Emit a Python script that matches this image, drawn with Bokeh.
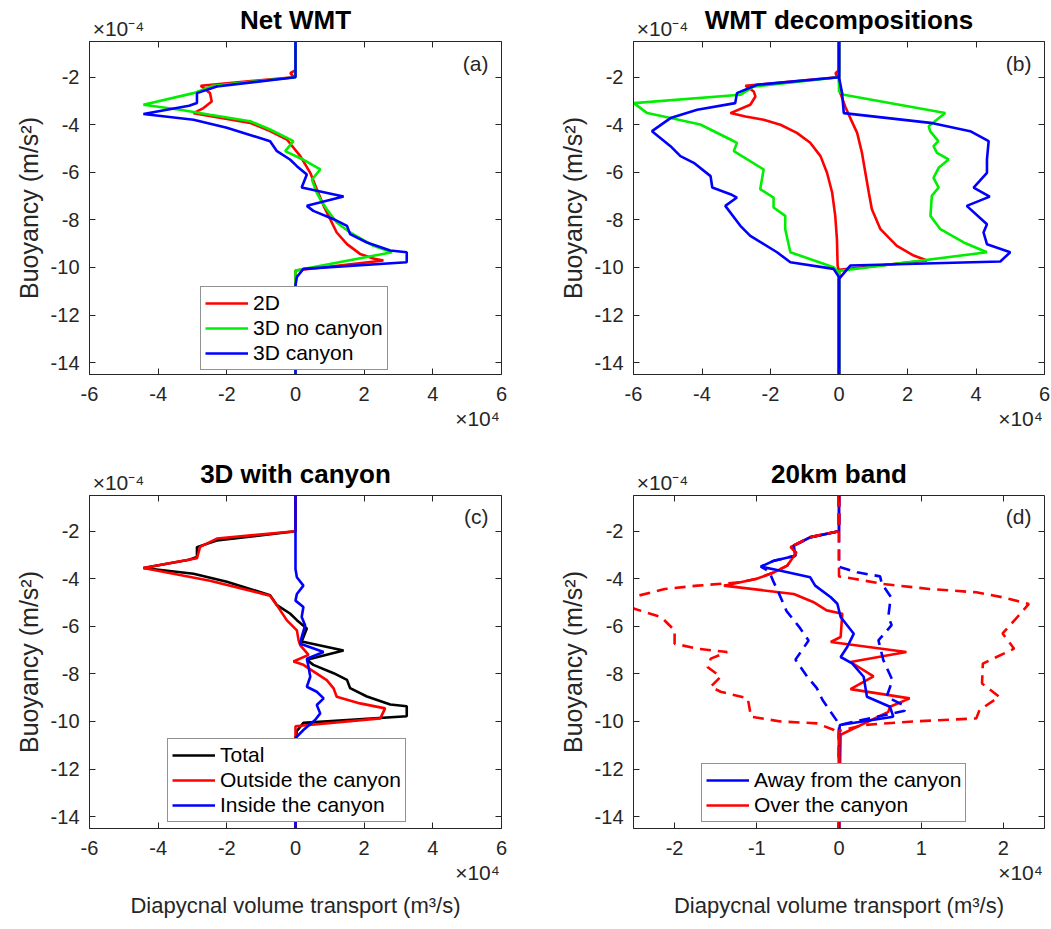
from bokeh.plotting import figure
from bokeh.models import (Range1d, FixedTicker, LinearAxis, Label, Legend,
                          LegendItem, CustomJSTickFormatter)
from bokeh.layouts import column, row
from bokeh.embed import file_html
from bokeh.resources import INLINE

# ---------------- data (x in 1e4 m^3/s, buoyancy in 1e-4 m/s^2) ----------------
# (a) Net WMT
net2d_b = [-0.5, -1.7, -1.83, -2.0, -2.36, -2.67, -3.02, -3.30, -3.51, -3.92, -4.27, -4.62,
           -5.32, -6.02, -6.71, -7.41, -7.97, -8.53, -9.02, -9.43, -9.62, -9.71, -10.13, -14.5]
net2d_x = [0, 0, -0.15, -0.05, -2.76, -2.49, -2.44, -2.68, -2.97, -1.32, -0.74, -0.25,
           0.14, 0.43, 0.62, 0.82, 1.01, 1.2, 1.5, 1.88, 2.27, 2.56, 0.0, 0]
net3dnc_b = [-0.5, -2.0, -2.36, -2.67, -3.16, -3.37, -3.58, -3.85, -4.2, -4.69, -5.11, -5.45,
             -5.88, -6.3, -6.8, -7.13, -7.55, -8.11, -8.53, -9.09, -9.36, -10.13, -14.5]
net3dnc_x = [0, 0, -2.39, -2.97, -4.43, -3.36, -2.49, -1.32, -0.74, -0.06, -0.30, 0.2,
             0.72, 0.48, 0.6, 0.72, 0.91, 1.2, 1.59, 2.27, 2.81, 0.0, 0]
net3dc_b = [-0.5, -2.0, -2.39, -2.67, -3.09, -3.2, -3.55, -3.79, -4.13, -4.69, -5.11, -5.46,
            -5.74, -6.09, -6.64, -7.02, -7.41, -7.62, -7.97, -8.25, -8.6, -8.95, -9.29, -9.36,
            -9.78, -10.06, -10.4, -10.76, -14.5]
net3dc_x = [0, 0, -2.29, -2.87, -2.87, -3.1, -4.43, -2.97, -2.0, -0.74, -0.54, -0.16,
            0.04, 0.33, 0.18, 1.40, 0.33, 0.52, 1.11, 1.5, 1.59, 2.08, 2.76, 3.24,
            3.24, 0.23, 0.04, 0, 0]

# (b) WMT decompositions (negative / positive parts)
neg2d_b = [-0.5, -1.7, -1.83, -2.0, -2.36, -2.6, -2.81, -3.16, -3.51, -3.65, -3.79, -4.0,
           -4.34, -4.76, -5.32, -6.02, -6.85, -7.83, -8.81, -9.92, -10.2, -14.5]
neg2d_x = [0, 0, -0.1, -0.05, -2.73, -2.49, -2.44, -2.59, -3.17, -2.73, -2.2, -1.71,
           -1.23, -0.84, -0.54, -0.35, -0.2, -0.11, -0.06, -0.04, 0, 0]
pos2d_b = [-0.5, -2.2, -2.67, -3.23, -3.72, -4.34, -5.18, -6.02, -6.85, -7.55, -8.39,
           -9.09, -9.5, -9.71, -10.1, -14.5]
pos2d_x = [0, 0, 0.04, 0.18, 0.33, 0.53, 0.67, 0.77, 0.87, 0.96, 1.21,
           1.69, 2.18, 2.57, 0.0, 0]
neg3dnc_b = [-0.5, -2.0, -2.4, -2.74, -3.09, -3.51, -3.72, -3.99, -4.62, -4.76, -5.11, -5.88,
             -6.71, -7.06, -7.48, -7.83, -8.39, -9.36, -9.99, -10.2, -14.5]
neg3dnc_x = [0, 0, -2.5, -2.88, -5.99, -5.6, -4.92, -4.05, -3.17, -2.98, -3.07, -2.2,
             -2.3, -1.91, -1.91, -1.57, -1.57, -1.42, -0.16, 0, 0]
pos3dnc_b = [-0.5, -2.6, -2.74, -3.51, -4.06, -4.27, -4.69, -4.9, -5.18, -5.46, -5.81, -6.23,
             -6.64, -6.99, -7.83, -8.39, -8.95, -9.36, -10.15, -14.5]
pos3dnc_x = [0, 0, 0.14, 3.1, 2.62, 2.66, 2.9, 2.76, 2.86, 3.2, 2.91, 2.76,
             2.91, 2.71, 2.67, 2.96, 3.64, 4.32, 0.0, 0]
neg3dc_b = [-0.5, -2.0, -2.32, -2.67, -3.09, -3.37, -3.72, -4.27, -4.9, -5.32, -5.6, -6.16,
            -6.64, -6.92, -7.06, -7.41, -8.25, -8.67, -9.36, -9.78, -10.06, -10.4, -14.5]
neg3dc_x = [0, 0, -2.39, -2.98, -3.03, -4.14, -4.92, -5.46, -4.92, -4.63, -4.24, -3.75,
            -3.7, -3.17, -2.98, -3.32, -2.88, -2.59, -1.81, -1.42, -0.16, 0, 0]
pos3dc_b = [-0.5, -2.0, -2.67, -3.51, -3.92, -4.27, -4.69, -5.46, -6.02, -6.64, -7.02, -7.41,
            -8.18, -8.53, -9.02, -9.36, -9.75, -9.92, -10.48, -14.5]
pos3dc_x = [0, 0, 0.09, 0.14, 2.67, 3.83, 4.37, 4.32, 4.32, 3.93, 4.4, 3.73,
            4.32, 4.22, 4.32, 5.0, 4.71, 0.33, 0, 0]

# (c) 3D with canyon
outside_b = [-0.5, -2.0, -2.31, -2.66, -3.14, -3.55, -4.08, -4.71, -5.12, -5.75, -6.17, -6.59,
             -6.8, -7.2, -7.48, -7.62, -8.26, -8.61, -8.96, -9.24, -9.45, -9.87, -10.2, -14.5]
outside_x = [0, 0, -2.29, -2.78, -2.87, -4.43, -2.49, -0.74, -0.54, -0.25, 0.04, 0.09,
             0.14, 0.38, -0.06, 0.23, 0.91, 1.11, 1.2, 1.88, 2.61, 2.47, 0.0, 0]
inside_b = [-0.5, -3.59, -3.94, -4.29, -4.64, -4.92, -5.19, -5.61, -5.96, -6.45, -6.73, -7.08,
            -7.36, -7.71, -8.12, -8.54, -8.75, -9.03, -9.31, -9.66, -9.94, -10.36, -10.7, -14.5]
inside_x = [0, 0, 0.04, 0.23, 0.04, 0, 0.23, 0.18, 0.28, 0.18, 0.14, 0.82,
            0.33, 0.38, 0.43, 0.33, 0.62, 0.82, 0.62, 0.72, 0.57, 0.23, 0, 0]

# (d) 20km band
away_b = [-0.5, -2.0, -2.26, -2.61, -3.03, -3.24, -3.49, -3.66, -3.94, -4.29, -4.78, -5.05,
          -5.61, -6.31, -6.87, -7.29, -7.56, -8.12, -8.96, -9.38, -9.8, -10.15, -10.56, -14.5]
away_x = [0, 0, -0.35, -0.55, -0.53, -0.79, -0.95, -0.71, -0.35, -0.29, -0.1, -0.02,
          0.02, 0.18, 0.1, 0.02, 0.16, 0.3, 0.34, 0.62, 0.66, 0.01, 0, 0]
over_b = [-0.5, -2.0, -2.25, -2.67, -2.9, -3.45, -3.73, -4.0, -4.29, -4.64, -5.0, -5.33,
          -5.47, -6.45, -6.66, -7.08, -7.5, -8.1, -8.64, -9.03, -9.38, -9.6, -10.56, -14.5]
over_x = [0, 0, -0.35, -0.59, -0.52, -0.63, -0.79, -1.0, -1.4, -0.55, -0.3, -0.15,
          0.04, 0.02, -0.1, 0.82, 0.14, 0.42, 0.14, 0.86, 0.62, 0.6, 0.02, 0]
away_neg_b = [-0.5, -2.0, -2.26, -2.61, -3.03, -3.24, -3.49, -3.7, -4.1, -4.7, -5.35, -6.0,
              -6.6, -7.4, -8.1, -8.6, -9.1, -9.6, -10.0, -10.2, -14.5]
away_neg_x = [0, 0, -0.35, -0.55, -0.53, -0.79, -0.95, -0.85, -0.8, -0.72, -0.64, -0.49,
              -0.37, -0.53, -0.39, -0.27, -0.2, -0.1, -0.02, 0, 0]
away_pos_b = [-0.5, -3.5, -3.73, -3.9, -4.2, -4.76, -5.6, -5.95, -6.59, -7.43, -8.26, -8.96,
              -9.31, -9.55, -10.15, -14.5]
away_pos_x = [0, 0, 0.22, 0.5, 0.52, 0.63, 0.6, 0.64, 0.48, 0.54, 0.65, 0.58,
              0.78, 0.8, 0, 0]
over_neg_b = [-0.5, -2.0, -2.25, -2.67, -2.9, -3.45, -3.73, -4.0, -4.15, -4.29, -4.43, -4.71,
              -4.95, -5.1, -5.27, -5.62, -6.17, -6.73, -6.94, -7.08, -7.36, -7.71, -8.12,
              -8.54, -8.75, -9.03, -9.8, -10.0, -10.08, -10.36, -10.5, -14.5]
over_neg_x = [0, 0, -0.35, -0.59, -0.52, -0.63, -0.79, -1.0, -1.2, -1.72, -2.12, -2.44,
              -2.6, -2.6, -2.48, -2.16, -2.0, -2.0, -1.72, -1.36, -1.56, -1.6, -1.44,
              -1.56, -1.44, -1.11, -1.07, -0.71, -0.27, -0.06, 0, 0]
over_pos_b = [-0.5, -3.9, -4.0, -4.22, -4.43, -4.57, -4.78, -5.06, -5.69, -6.3, -6.94, -7.3,
              -7.57, -8.4, -8.96, -9.52, -9.87, -10.0, -10.15, -10.4, -14.5]
over_pos_x = [0, 0, 0.18, 0.54, 1.1, 1.67, 1.99, 2.31, 2.15, 1.99, 2.13, 1.91,
              1.75, 1.74, 1.95, 1.71, 1.67, 0.9, 0.3, 0, 0]

y_ticks = [-14, -12, -10, -8, -6, -4, -2]
x_ticks_wide = [-6, -4, -2, 0, 2, 4, 6]
x_ticks_band = [-2, -1, 0, 1, 2]

titles = ["Net WMT", "WMT decompositions", "3D with canyon", "20km band"]
tags = ["(a)", "(b)", "(c)", "(d)"]
y_scale_text = "×10⁻⁴"
x_scale_text = "×10⁴"
y_label = "Buoyancy (m/s²)"
x_label = "Diapycnal volume transport (m³/s)"

# ---------------- styling ----------------
FONT = "Liberation Sans"
AX = "#262626"
RED, GREEN, BLUE, BLACK = "#ff0000", "#00ee00", "#0000ff", "#000000"
LW = 2.6
NUM_FMT = "return String(tick)"


def base_axis(ax):
    ax.axis_line_color = AX
    ax.major_tick_in = 6
    ax.major_tick_out = 0
    ax.minor_tick_in = 6
    ax.minor_tick_out = 0
    ax.major_tick_line_color = AX
    ax.minor_tick_line_color = AX
    ax.major_label_text_font = FONT
    ax.major_label_text_font_size = "20px"
    ax.major_label_text_color = AX
    ax.axis_label_text_font = FONT
    ax.axis_label_text_font_size = "22px"
    ax.axis_label_text_font_style = "normal"
    ax.axis_label_text_color = AX


def text_axis(text, pos, minor):
    """axis carrying a single text label at data position pos (no tick line)"""
    ax = LinearAxis(ticker=FixedTicker(ticks=[pos], minor_ticks=minor),
                    formatter=CustomJSTickFormatter(code="return %r" % text))
    base_axis(ax)
    ax.major_tick_line_color = None
    ax.axis_line_color = None
    ax.major_label_text_font_size = "21px"
    return ax


def make_panel(i, width, height, bl, br, bt, bb, xr, xticks, with_xlabel):
    p = figure(width=width, height=height, output_backend="svg", toolbar_location=None,
               x_range=Range1d(*xr), y_range=Range1d(-14.5, -0.5),
               min_border_left=bl, min_border_right=br, min_border_top=bt,
               min_border_bottom=bb, background_fill_color="white",
               border_fill_color="white")
    p.grid.visible = False
    p.outline_line_color = AX
    p.outline_line_width = 1
    fw = width - bl - br
    span = xr[1] - xr[0]

    # bottom axis with numbers
    xa = p.xaxis[0]
    base_axis(xa)
    xa.ticker = FixedTicker(ticks=xticks)
    xa.formatter = CustomJSTickFormatter(code=NUM_FMT)
    xa.major_label_standoff = 12
    xa.minor_tick_line_color = None

    # left axis with numbers
    ya = p.yaxis[0]
    base_axis(ya)
    ya.ticker = FixedTicker(ticks=y_ticks)
    ya.formatter = CustomJSTickFormatter(code=NUM_FMT)
    ya.major_label_standoff = 10
    ya.minor_tick_line_color = None
    ya.axis_label = y_label
    ya.axis_label_text_font_size = "25px"
    ya.axis_label_standoff = 5

    # right axis: ticks only
    ra = LinearAxis(ticker=FixedTicker(ticks=[], minor_ticks=y_ticks))
    base_axis(ra)
    ra.axis_line_color = None
    ra.major_label_standoff = 0
    p.add_layout(ra, "right")

    # top axis: ticks, the x10^-4 multiplier and the panel title
    ta = text_axis(y_scale_text, xr[0] + 29.0 / fw * span, xticks)
    ta.major_label_standoff = 2
    ta.axis_label = titles[i]
    ta.axis_label_text_font_size = "26px"
    ta.axis_label_text_font_style = "bold"
    ta.axis_label_text_color = "#000000"
    try:
        ta.axis_label_standoff = -21
    except Exception:
        ta.axis_label_standoff = 0
    p.add_layout(ta, "above")

    # second bottom axis: x10^4 multiplier and (bottom row) the axis title
    ba = text_axis(x_scale_text, xr[1] - 24.0 / fw * span, [])
    ba.major_label_standoff = 3
    ba.minor_tick_line_color = None
    if with_xlabel:
        ba.axis_label = x_label
        ba.axis_label_standoff = 6
    p.add_layout(ba, "below")

    fh = height - bt - bb
    p.add_layout(Label(x=fw - 13, y=fh - 22, x_units="screen", y_units="screen",
                       text=tags[i], text_align="right", text_baseline="middle",
                       text_font=FONT, text_font_size="21px", text_color=AX))
    return p


def add_legend(p, items, x, y):
    leg = Legend(items=[LegendItem(label=l, renderers=[r]) for l, r in items],
                 location=(x, y), label_text_font=FONT, label_text_font_size="21px",
                 label_text_color="#000000", glyph_width=43, glyph_height=20,
                 label_standoff=5, padding=4, spacing=1, margin=0, label_height=20,
                 border_line_color=AX, border_line_width=1,
                 background_fill_color="white", background_fill_alpha=1.0)
    p.add_layout(leg)


TOP_H, BOT_H = 455, 474

# (a)
pa = make_panel(0, 520, TOP_H, 89, 19, 41, TOP_H - 374, (-6, 6), x_ticks_wide, False)
ra = pa.line(net2d_x, net2d_b, line_color=RED, line_width=LW)
ga = pa.line(net3dnc_x, net3dnc_b, line_color=GREEN, line_width=LW)
ba = pa.line(net3dc_x, net3dc_b, line_color=BLUE, line_width=LW)
add_legend(pa, [("2D", ra), ("3D no canyon", ga), ("3D canyon", ba)], 111, 4)

# (b)
pb = make_panel(1, 531, TOP_H, 113, 7, 41, TOP_H - 374, (-6, 6), x_ticks_wide, False)
pb.line(neg2d_x, neg2d_b, line_color=RED, line_width=LW)
pb.line(pos2d_x, pos2d_b, line_color=RED, line_width=LW)
pb.line(neg3dnc_x, neg3dnc_b, line_color=GREEN, line_width=LW)
pb.line(pos3dnc_x, pos3dnc_b, line_color=GREEN, line_width=LW)
pb.line(neg3dc_x, neg3dc_b, line_color=BLUE, line_width=LW)
pb.line(pos3dc_x, pos3dc_b, line_color=BLUE, line_width=LW)

# (c)
pc = make_panel(2, 520, BOT_H, 89, 19, 494 - TOP_H, 101, (-6, 6), x_ticks_wide, True)
kc = pc.line(net3dc_x, net3dc_b, line_color=BLACK, line_width=LW)
rc = pc.line(outside_x, outside_b, line_color=RED, line_width=LW)
bc = pc.line(inside_x, inside_b, line_color=BLUE, line_width=LW)
add_legend(pc, [("Total", kc), ("Outside the canyon", rc), ("Inside the canyon", bc)], 78, 6)

# (d)
pd_ = make_panel(3, 531, BOT_H, 113, 7, 494 - TOP_H, 101, (-2.5, 2.5), x_ticks_band, True)
rd = pd_.line(over_x, over_b, line_color=RED, line_width=LW)
bd = pd_.line(away_x, away_b, line_color=BLUE, line_width=LW)
pd_.line(away_pos_x, away_pos_b, line_color=BLUE, line_width=LW, line_dash="11 7")
pd_.line(away_neg_x, away_neg_b, line_color=BLUE, line_width=LW, line_dash="11 7")
pd_.line(over_pos_x, over_pos_b, line_color=RED, line_width=LW, line_dash="11 7")
pd_.line(over_neg_x, over_neg_b, line_color=RED, line_width=LW, line_dash="11 7")
add_legend(pd_, [("Away from the canyon", bd), ("Over the canyon", rd)], 68, 6)

layout = column(row(pa, pb), row(pc, pd_))
open("out.html", "w").write(file_html(layout, INLINE))
